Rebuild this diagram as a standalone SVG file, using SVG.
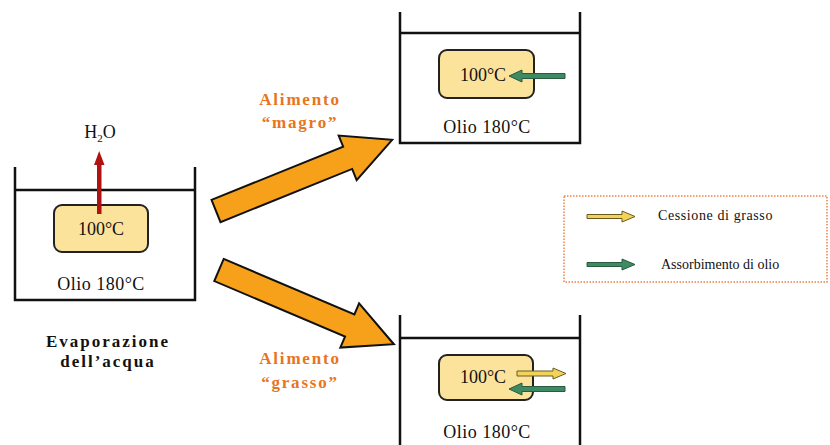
<svg xmlns="http://www.w3.org/2000/svg" width="830" height="445" viewBox="0 0 830 445">
<defs>
<style>
.wall{fill:none;stroke:#111;stroke-width:2.5}
.food{fill:#FBE39C;stroke:#222;stroke-width:2}
.t{font-family:'Liberation Serif','DejaVu Serif',serif;font-size:18px;fill:#111;text-anchor:middle}
.lab{font-family:'Liberation Serif','DejaVu Serif',serif;font-size:17px;font-weight:bold;fill:#E8741E;text-anchor:middle;letter-spacing:1.8px}
.blk{font-family:'Liberation Serif','DejaVu Serif',serif;font-size:17px;font-weight:bold;fill:#111;text-anchor:middle;letter-spacing:2px}
.leg{font-family:'Liberation Serif','DejaVu Serif',serif;font-size:14px;fill:#111}
.big{fill:#F7A11A;stroke:#111;stroke-width:2;stroke-linejoin:miter}
.ya{fill:#F2D35A;stroke:#6b5a20;stroke-width:1}
.ga{fill:#3E8A62;stroke:#2a5a40;stroke-width:1}
</style>
<polygon id="bigarrow" points="0,-12 142,-12 142,-24 190,0 142,24 142,12 0,12"/>
</defs>
<rect width="830" height="445" fill="#fff"/>

<g id="left">
<path class="wall" d="M15,167 V300 H195 V167 M15,190 H195"/>
<rect class="food" x="54" y="205" width="94" height="47" rx="8"/>
<text class="t" x="101" y="235">100°C</text>
<text class="t" x="101" y="290" letter-spacing="0.5">Olio 180°C</text>
<rect x="97" y="163" width="4.5" height="51" fill="#B01212"/>
<polygon points="99.2,151 104.5,165 94,165" fill="#B01212"/>
<text class="t" x="100" y="138" font-size="17">H<tspan font-size="11" dy="4">2</tspan><tspan dy="-4">O</tspan></text>
<text class="blk" x="108" y="347">Evaporazione</text>
<text class="blk" x="108" y="367">dell’acqua</text>
</g>

<g id="top">
<path class="wall" d="M400,12 V143 H580 V12 M400,33 H580"/>
<rect class="food" x="439" y="50" width="95" height="48" rx="8"/>
<text class="t" x="483" y="81">100°C</text>
<text class="t" x="487" y="133" letter-spacing="0.5">Olio 180°C</text>
<polygon class="ga" points="565,73.5 522,73.5 522,70 509,76 522,82 522,78.5 565,78.5"/>
</g>

<g id="bottom">
<path class="wall" d="M400,315 V445 M580,315 V445 M400,338 H580"/>
<rect class="food" x="439" y="355" width="94" height="45" rx="8"/>
<text class="t" x="483" y="383">100°C</text>
<text class="t" x="487" y="438" letter-spacing="0.5">Olio 180°C</text>
<polygon class="ya" points="517,371 553,371 553,368 566,373.5 553,379 553,376 517,376"/>
<polygon class="ga" points="565,386.5 522,386.5 522,383 509,389 522,395 522,391.5 565,391.5"/>
</g>

<g id="legend">
<rect x="564" y="196" width="263" height="86" fill="none" stroke="#F08040" stroke-width="1.5" stroke-dasharray="1.5,1.5"/>
<polygon class="ya" points="587,214.5 622,214.5 622,211 635,216.5 622,222 622,218.5 587,218.5"/>
<text class="leg" x="658" y="220" letter-spacing="0.6">Cessione di grasso</text>
<polygon class="ga" points="587,262.5 622,262.5 622,259 635,264.5 622,270 622,266.5 587,266.5"/>
<text class="leg" x="661" y="269">Assorbimento di olio</text>
</g>

<g id="connectors">
<use href="#bigarrow" class="big" transform="translate(216,211) rotate(-22)"/>
<use href="#bigarrow" class="big" transform="translate(219,270) rotate(23)"/>
<text class="lab" x="300" y="105">Alimento</text>
<text class="lab" x="300" y="128">“magro”</text>
<text class="lab" x="300" y="364">Alimento</text>
<text class="lab" x="300" y="388">“grasso”</text>
</g>
</svg>
